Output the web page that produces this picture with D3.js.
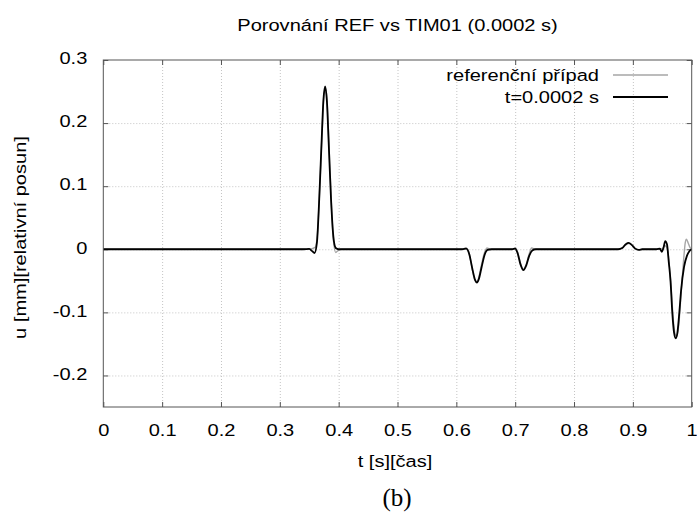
<!DOCTYPE html>
<html>
<head>
<meta charset="utf-8">
<script src="https://cdn.jsdelivr.net/npm/d3@7"></script>
<style>
  body { margin: 0; background: #fff; }
</style>
</head>
<body>
<div class="graph"></div>
<script>
// values
let seriesNames = ["referenční případ", "t=0.0002 s"];

let tRef = [0, 0.35, 0.36, 0.364, 0.368, 0.372, 0.375, 0.377, 0.380, 0.383, 0.387, 0.391, 0.395, 0.399, 0.405,
    0.61, 0.616, 0.621, 0.626, 0.631, 0.634, 0.637, 0.642, 0.647, 0.652, 0.658,
    0.695, 0.700, 0.704, 0.709, 0.713, 0.718, 0.723, 0.728, 0.734,
    0.875, 0.882, 0.888, 0.893, 0.898, 0.904, 0.91, 0.916,
    0.94, 0.95, 0.954, 0.957, 0.961, 0.965, 0.969, 0.972, 0.975, 0.978, 0.982, 0.986, 0.989, 0.991, 0.994, 0.997, 1.0];
let uRef = [0, 0, 0.003, 0.025, 0.1, 0.19, 0.245, 0.255, 0.24, 0.18, 0.085, 0.015, -0.005, -0.002, 0,
    0, 0.002, -0.004, -0.026, -0.048, -0.052, -0.048, -0.028, -0.008, 0.002, 0,
    0, 0.002, -0.004, -0.022, -0.032, -0.026, -0.01, 0.002, 0,
    0, 0.002, 0.007, 0.009, 0.007, 0.001, -0.001, 0,
    0, 0.001, 0.006, 0.004, -0.015, -0.06, -0.115, -0.135, -0.138, -0.12, -0.07, -0.02, 0.01, 0.016, 0.01, 0.003, 0];

let tTim = [0, 0.34, 0.35, 0.355, 0.359, 0.363, 0.367, 0.371, 0.374, 0.377, 0.380, 0.383, 0.387, 0.391, 0.395, 0.40,
    0.61, 0.617, 0.622, 0.627, 0.632, 0.635, 0.638, 0.643, 0.648, 0.653, 0.66,
    0.695, 0.700, 0.704, 0.709, 0.714, 0.719, 0.724, 0.729, 0.735,
    0.875, 0.882, 0.888, 0.893, 0.898, 0.904, 0.91, 0.916,
    0.94, 0.946, 0.949, 0.952, 0.955, 0.958, 0.961, 0.964, 0.967, 0.970, 0.973, 0.976, 0.979, 0.982, 0.987, 0.992, 0.996, 1.0];
let uTim = [0, 0, 0.0005, -0.003, -0.006, 0.01, 0.08, 0.17, 0.235, 0.258, 0.235, 0.17, 0.08, 0.02, 0.002, 0,
    0, 0.001, -0.008, -0.03, -0.049, -0.053, -0.048, -0.028, -0.009, -0.001, 0,
    0, 0.001, -0.006, -0.024, -0.033, -0.025, -0.01, -0.002, 0,
    0, 0.002, 0.008, 0.010, 0.007, 0.001, -0.001, 0,
    0, 0.001, -0.004, 0.002, 0.013, 0.008, -0.02, -0.05, -0.1, -0.132, -0.141, -0.13, -0.1, -0.065, -0.028, -0.01, -0.003, 0];

let xTicks = [0, 0.1, 0.2, 0.3, 0.4, 0.5, 0.6, 0.7, 0.8, 0.9, 1];
let yTicks = [0.3, 0.2, 0.1, 0, -0.1, -0.2];

let W = 697, H = 522;
let margin = {top: 60, left: 103.3, right: 5.3, bottom: 115},
    width = W - margin.left - margin.right,
    height = 407 - margin.top;

let sx = 1.18; // text in the picture is wider than Arial
let fs = 17;
let sans = '"Liberation Sans", Arial, sans-serif';

let x = d3.scaleLinear().domain([0, 1]).range([0, width]);
let y = d3.scaleLinear().domain([-0.25, 0.3]).range([height, 0]);

let svg = d3.select(".graph").append("svg")
    .attr("width", W).attr("height", H);

let g = svg.append("g")
    .attr("transform", "translate(" + margin.left + "," + margin.top + ")");

// grid
g.append("g").attr("class", "grid")
    .attr("transform", "translate(0," + height + ")")
    .call(d3.axisBottom(x).tickValues(xTicks.slice(1, -1)).tickSize(-height).tickFormat(""));
g.append("g").attr("class", "grid")
    .call(d3.axisLeft(y).tickValues(yTicks.slice(1)).tickSize(-width).tickFormat(""));
g.selectAll(".grid .domain").remove();
g.selectAll(".grid line")
    .attr("stroke", "#c4c4c4")
    .attr("stroke-width", 1)
    .attr("stroke-dasharray", "1,2");

let fmt = d => d === 0 ? "0" : String(+d.toFixed(1));

// axes with inward ticks
let xb = g.append("g")
    .attr("transform", "translate(0," + height + ")")
    .call(d3.axisBottom(x).tickValues(xTicks).tickSizeInner(-5).tickSizeOuter(0).tickPadding(17).tickFormat(fmt));
let xt = g.append("g")
    .call(d3.axisTop(x).tickValues(xTicks).tickSizeInner(-5).tickSizeOuter(0).tickFormat(""));
let yl = g.append("g")
    .call(d3.axisLeft(y).tickValues(yTicks).tickSizeInner(-5).tickSizeOuter(0).tickPadding(16).tickFormat(fmt));
let yr = g.append("g")
    .attr("transform", "translate(" + width + ",0)")
    .call(d3.axisRight(y).tickValues(yTicks).tickSizeInner(-5).tickSizeOuter(0).tickFormat(""));

[xb, xt, yl, yr].forEach(a => {
    a.select(".domain").remove();
    a.selectAll("line").attr("stroke", "#555");
    a.selectAll("text")
        .attr("font-family", sans)
        .attr("font-size", fs)
        .attr("fill", "#000");
});
xb.selectAll("text").attr("transform", "scale(" + sx + ",1)");
yl.selectAll("text")
    .attr("x", -16 / sx)
    .attr("dy", "0.22em")
    .attr("transform", "scale(" + sx + ",1)");

// lines
let line = d3.line()
    .x(d => x(d[0]))
    .y(d => y(d[1]))
    .curve(d3.curveMonotoneX);

let refData = tRef.map((t, i) => [t, uRef[i]]);
let timData = tTim.map((t, i) => [t, uTim[i]]);

let colors = ["#a6a6a6", "#000000"];
let widths = [1.4, 1.8];

g.append("path").datum(refData)
    .attr("fill", "none").attr("stroke", colors[0]).attr("stroke-width", widths[0])
    .attr("d", line);
g.append("path").datum(timData)
    .attr("fill", "none").attr("stroke", colors[1]).attr("stroke-width", widths[1])
    .attr("stroke-linejoin", "round")
    .attr("d", line);

// border
g.append("rect")
    .attr("width", width).attr("height", height)
    .attr("fill", "none").attr("stroke", "#555").attr("stroke-width", 1);

// stretched text helper
let label = (parent, px, py, txt, anchor, rot, size) => {
    let t = parent.append("g")
        .attr("transform", "translate(" + px + "," + py + ")" + (rot ? " rotate(" + rot + ")" : "") + " scale(" + sx + ",1)");
    t.append("text")
        .attr("text-anchor", anchor)
        .attr("font-family", sans)
        .attr("font-size", size || fs)
        .attr("fill", "#000")
        .text(txt);
    return t;
}

// legend
let legend = svg.append("g");
seriesNames.forEach((name, i) => {
    let ly = 75 + i * 22;
    label(legend, 599, ly + 5.5, name, "end");
    legend.append("line")
        .attr("x1", 613).attr("x2", 668)
        .attr("y1", ly).attr("y2", ly)
        .attr("stroke", colors[i]).attr("stroke-width", widths[i]);
});

// titles
label(svg, margin.left + width / 2, 31, "Porovnání REF vs TIM01 (0.0002 s)", "middle");
label(svg, 395, 467, "t [s][čas]", "middle");
label(svg, 26, 237.5, "u [mm][relativní posun]", "middle", -90);

svg.append("text")
    .attr("x", 397).attr("y", 506)
    .attr("text-anchor", "middle")
    .attr("font-family", '"Liberation Serif", serif')
    .attr("font-size", 25)
    .text("(b)");
</script>
</body>
</html>
